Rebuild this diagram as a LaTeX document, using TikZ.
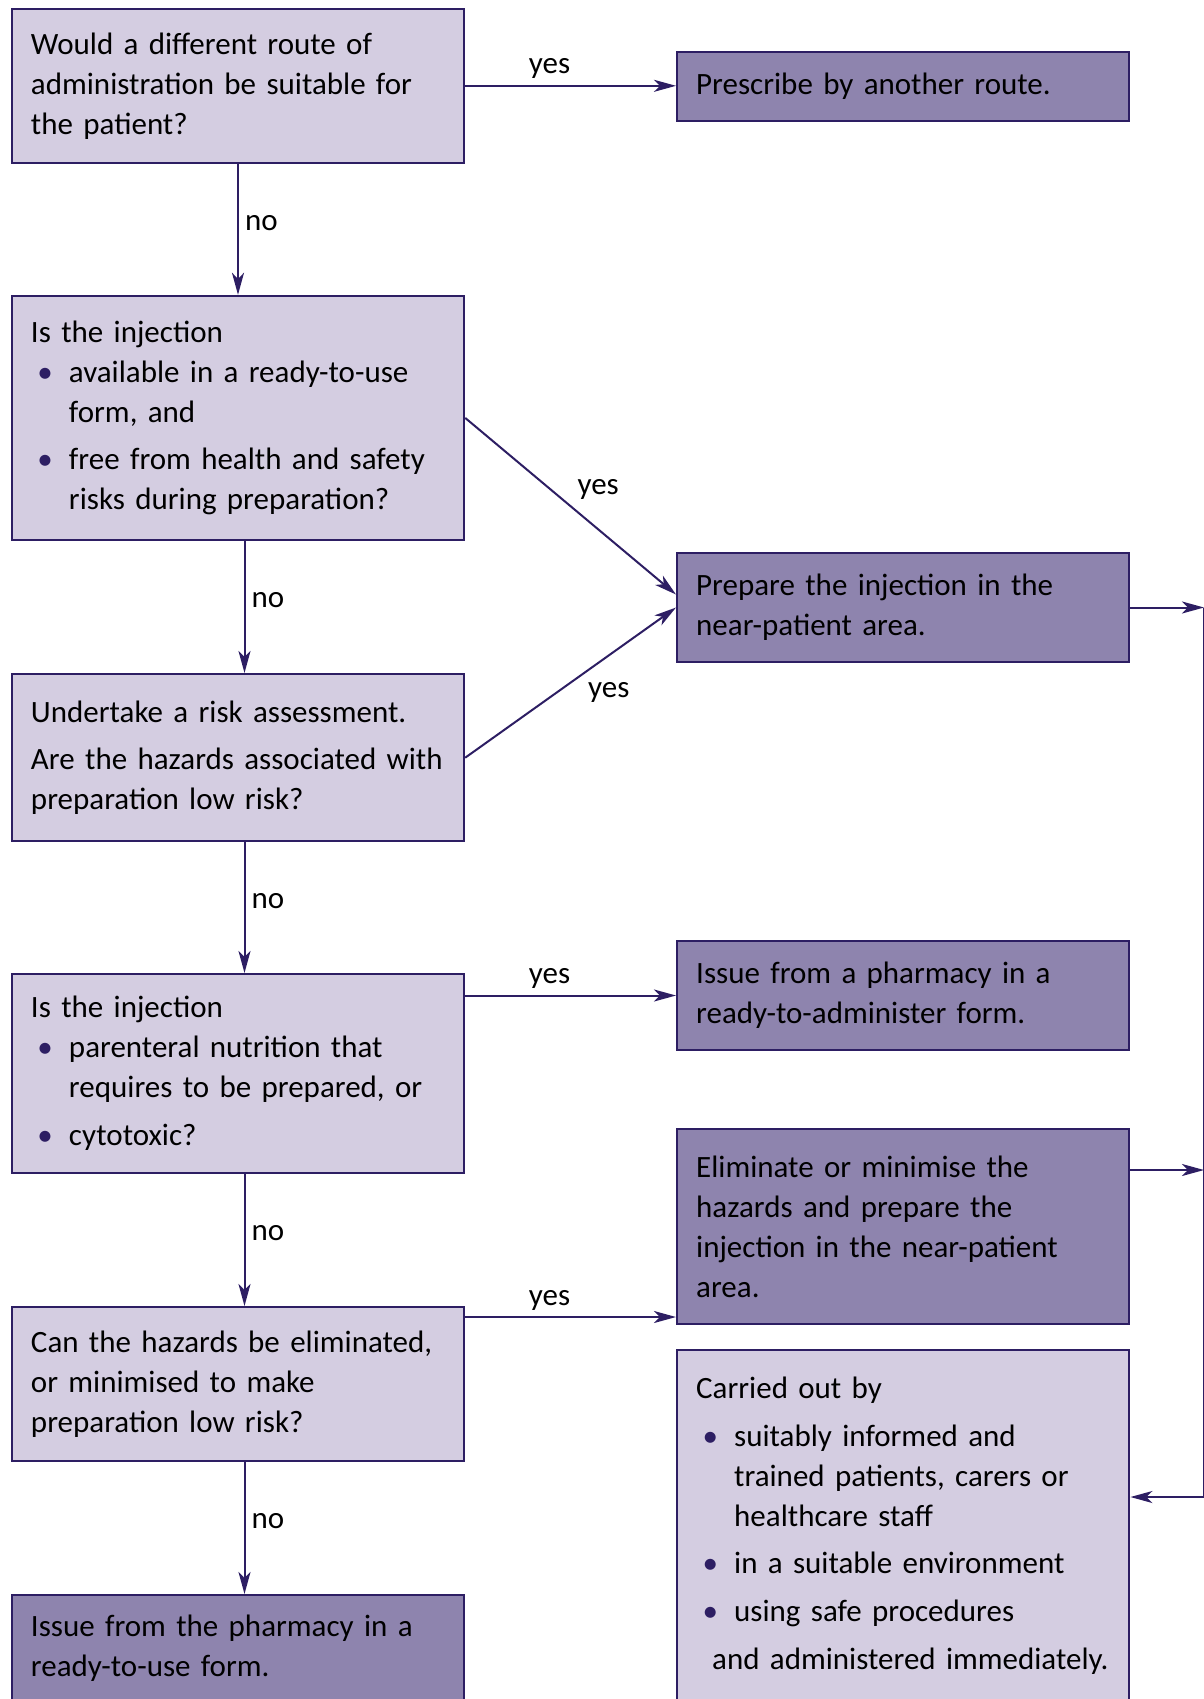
\documentclass[tikz,border=0pt]{standalone}
\usepackage{fontspec}
\setmainfont{Carlito}
\usetikzlibrary{arrows.meta,calc}
\definecolor{qfill}{HTML}{D4CDE1}
\definecolor{afill}{HTML}{8E84AE}
\definecolor{edge}{HTML}{2D1E63}
\newlength{\bulind}
\setlength{\bulind}{19pt}
\newcommand{\bul}[0]{\makebox[\bulind][l]{\hspace{3.2pt}\textcolor{edge}{\textbullet}}}
\newcommand{\cont}[0]{\hspace*{\bulind}}
\newcommand{\itemgap}[0]{3.8pt}
\newcommand{\boxfont}[0]{\fontsize{15.5}{20}\selectfont}

\begin{document}
\begin{tikzpicture}[x=0.5pt, y=0.5pt]
  \tikzset{box/.style={draw=edge,line width=1.2pt,anchor=north west,align=left,
      text width=207pt,inner xsep=9pt,minimum width=226pt,font=\boxfont},
    question/.style={box,fill=qfill},
    answer/.style={box,fill=afill},
    flow/.style={draw=edge,line width=1pt,-{Stealth[length=11pt,width=6pt,inset=3pt]}},
    lab/.style={font=\boxfont,inner sep=3pt}}
  \useasboundingbox (0,0) rectangle (1204,-1699);
  \node[question, minimum height=77pt] (route) at (10.8,-7.6)
    {Would a different route of\\
     administration be suitable for\\
     the patient?};
  \node[answer, minimum height=34.5pt] (other) at (676,-51)
    {Prescribe by another route.};
  \node[question, minimum height=121.9pt] (ready) at (10.8,-294.8)
    {Is the injection\\
     \bul available in a ready-to-use\\
     \cont form, and\\[\itemgap]
     \bul free from health and safety\\
     \cont risks during preparation?};
  \node[answer, minimum height=54.7pt] (near) at (676,-551.6)
    {Prepare the injection in the\\
     near-patient area.};
  \node[question, minimum height=83.5pt] (risk) at (10.8,-673)
    {Undertake a risk assessment.\\[\itemgap]
     Are the hazards associated with\\
     preparation low risk?};
  \node[question, minimum height=99.25pt] (kind) at (10.8,-973)
    {Is the injection\\
     \bul parenteral nutrition that\\
     \cont requires to be prepared, or\\[\itemgap]
     \bul cytotoxic?};
  \node[answer, minimum height=54.7pt] (admin) at (676,-939.6)
    {Issue from a pharmacy in a\\
     ready-to-administer form.};
  \node[answer, minimum height=97.5pt] (minim) at (676,-1128)
    {Eliminate or minimise the\\
     hazards and prepare the\\
     injection in the near-patient\\
     area.};
  \node[question, minimum height=76.85pt] (hazard) at (10.8,-1306)
    {Can the hazards be eliminated,\\
     or minimised to make\\
     preparation low risk?};
  \node[question, minimum height=175.5pt] (staff) at (676,-1349)
    {Carried out by\\[\itemgap]
     \bul suitably informed and\\
     \cont trained patients, carers or\\
     \cont healthcare staff\\[\itemgap]
     \bul in a suitable environment\\[\itemgap]
     \bul using safe procedures\\[\itemgap]
     \hspace*{8pt}and administered immediately.};
  \node[answer, minimum height=53.5pt] (stock) at (10.8,-1594)
    {Issue from the pharmacy in a\\
     ready-to-use form.};
  \coordinate (rail) at (1204,0);
  \coordinate (minimout) at ($(minim.north east)+(0,-42)$);
  \coordinate (staffin) at ($(staff.north east)+(0,-148)$);
  \coordinate (hazardout) at ($(hazard.north east)+(0,-11)$);
  \draw[flow] (route.east) -- node[lab,above,pos=0.4] {yes} (route.east -| other.west);
  \draw[flow] (route.south) -- node[lab,right,pos=0.45] {no} (route.south |- ready.north);
  \draw[flow] (ready.east) -- node[lab,above right,pos=0.5] {yes} ($(near.west)+(0,13)$);
  \draw[flow] ([xshift=3.25pt]ready.south) -- node[lab,right,pos=0.45] {no} ([xshift=3.25pt]ready.south |- risk.north);
  \draw[flow] (risk.east) -- node[lab,below right,pos=0.55] {yes} (near.west);
  \draw[flow] ([xshift=3.25pt]risk.south) -- node[lab,right,pos=0.45] {no} ([xshift=3.25pt]risk.south |- kind.north);
  \draw[flow] (admin.west -| kind.east) -- node[lab,above,pos=0.4] {yes} (admin.west);
  \draw[flow] ([xshift=3.25pt]kind.south) -- node[lab,right,pos=0.45] {no} ([xshift=3.25pt]kind.south |- hazard.north);
  \draw[flow] (hazardout) -- node[lab,above,pos=0.4] {yes} (hazardout -| minim.west);
  \draw[flow] ([xshift=3.25pt]hazard.south) -- node[lab,right,pos=0.45] {no} ([xshift=3.25pt]hazard.south |- stock.north);
  \draw[flow] (near.east) -- (near.east -| rail);
  \draw[flow] (minimout) -- (minimout -| rail);
  \draw[draw=edge,line width=1pt] (near.east -| rail) -- (staffin -| rail);
  \draw[flow] (staffin -| rail) -- (staffin);
\end{tikzpicture}
\end{document}
